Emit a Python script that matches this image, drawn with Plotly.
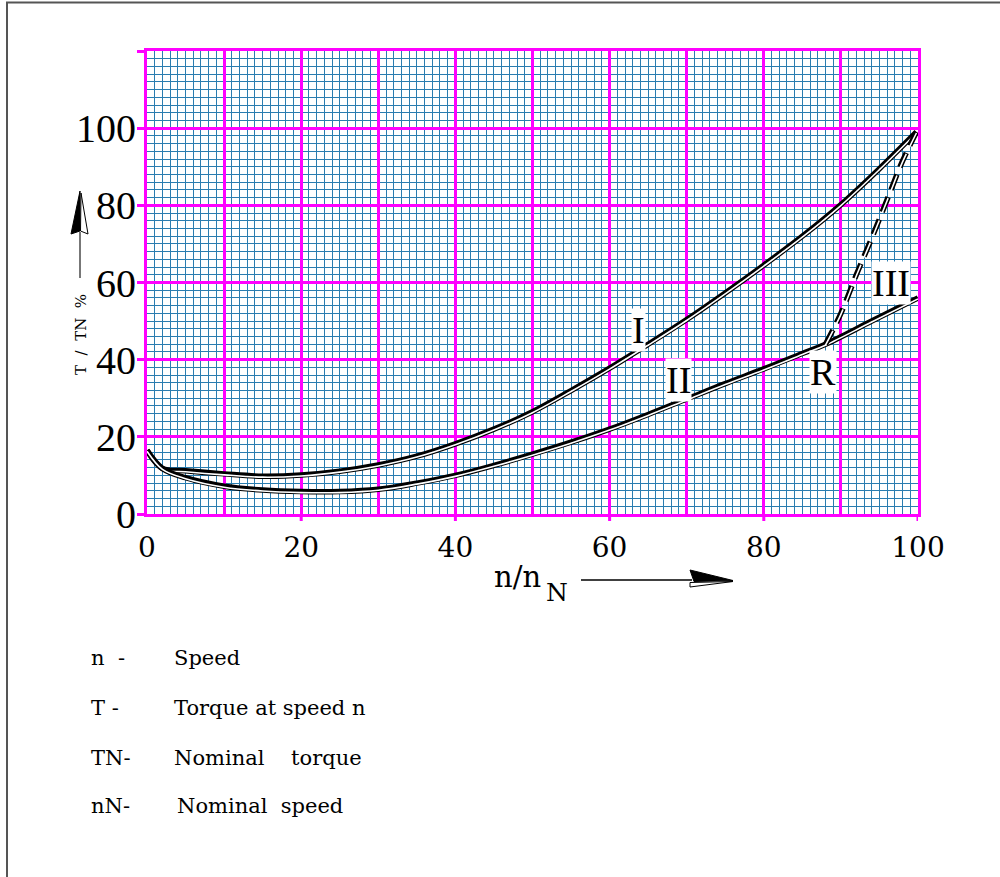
import plotly.graph_objects as go

# ---- data ----
speed_I = [0, 2, 5, 10, 15, 20, 25, 30, 35, 40, 45, 50, 55, 60, 65, 70, 75, 80, 85, 90, 95, 99.8]
torque_I = [16.5, 11.8, 11.2, 10.4, 9.8, 10.1, 11.1, 12.7, 15.0, 18.2, 22.0, 26.5, 32.0, 37.8, 44.0, 50.4, 57.3, 64.5, 72.0, 80.2, 89.5, 99.0]

speed_II = [0, 2, 5, 10, 15, 20, 25, 30, 35, 40, 45, 50, 55, 60, 65, 70, 75, 80, 85, 88, 94, 100]
torque_II = [16.5, 11.8, 9.4, 7.2, 6.2, 5.8, 5.8, 6.4, 8.0, 10.0, 12.6, 15.5, 18.6, 22.0, 25.8, 29.8, 33.8, 37.6, 41.6, 44.0, 50.0, 56.0]

speed_III = [88, 90, 92, 94, 96, 98, 99.8]
torque_III = [44, 52, 62, 71.5, 81.5, 91.5, 99]

curve_labels = ["I", "II", "III", "R"]
label_x = [63.8, 69.0, 96.5, 87.7]
label_y = [47.7, 34.7, 59.9, 36.8]

x_ticks = list(range(0, 101, 10))
x_ticktext = [str(v) if v % 20 == 0 else "" for v in x_ticks]
y_ticks = list(range(0, 121, 20))
y_ticktext = [str(v) if v <= 100 else "" for v in y_ticks]

legend_abbr = ["n\u00a0\u00a0-", "T\u00a0-", "TN-", "nN-"]
legend_desc = ["Speed", "Torque at speed n", "Nominal\u00a0\u00a0\u00a0\u00a0torque", "Nominal\u00a0\u00a0speed"]

# ---- layout geometry (pixels) ----
W, H = 1000, 877
L, R, T, B = 147, 918, 51, 514
PW, PH = R - L, B - T

def fx(px):
    return (px - L) / PW

def fy(py):
    return (B - py) / PH

MAG = "#ff00ff"
BLUE = "#2a7db0"

fig = go.Figure()

def double_line(xs, ys, dash=None):
    fig.add_trace(go.Scatter(x=xs, y=ys, mode="lines",
                             line=dict(color="black", width=5.5, shape="spline", dash=dash),
                             hoverinfo="skip", showlegend=False))
    fig.add_trace(go.Scatter(x=xs, y=[v - 0.25 for v in ys], mode="lines",
                             line=dict(color="white", width=1.6, shape="spline", dash=dash),
                             hoverinfo="skip", showlegend=False))

double_line(speed_I, torque_I)
double_line(speed_II, torque_II)
double_line(speed_III, torque_III, dash="16px,8px")

fig.update_layout(
    width=W, height=H,
    margin=dict(l=L, r=W - R, t=T, b=H - B, pad=0),
    paper_bgcolor="white", plot_bgcolor="white",
    showlegend=False,
    xaxis=dict(range=[0, 100], tickmode="array", tickvals=x_ticks, ticktext=x_ticktext,
               showgrid=True, gridcolor=MAG, gridwidth=3,
               showline=True, linecolor=MAG, linewidth=3, mirror=True,
               zeroline=False, ticks="",
               tickfont=dict(family="DejaVu Serif", size=28, color="black"),
               ticklabelstandoff=6,
               minor=dict(dtick=1, tick0=0, showgrid=True, gridcolor=BLUE, gridwidth=1, ticks="")),
    yaxis=dict(range=[0, 120], tickmode="array", tickvals=y_ticks, ticktext=y_ticktext,
               showgrid=True, gridcolor=MAG, gridwidth=3,
               showline=True, linecolor=MAG, linewidth=3, mirror=True,
               zeroline=False, ticks="outside", ticklen=7, tickwidth=3, tickcolor=MAG,
               tickfont=dict(family="Liberation Serif", size=40, color="black"),
               ticklabelstandoff=-7,
               minor=dict(dtick=2, tick0=0, showgrid=True, gridcolor=BLUE, gridwidth=1, ticks="")),
)

shapes = []
# x tick marks at labelled positions
for v in x_ticks:
    if v % 20 == 0 and v > 0:
        shapes.append(dict(type="line", xref="x", yref="paper", x0=v, x1=v, y0=0, y1=fy(521),
                           line=dict(color=MAG, width=3)))
# frame (left and top)
shapes.append(dict(type="path", xref="paper", yref="paper",
                   path=f"M {fx(7)},{fy(877)} L {fx(7)},{fy(2.5)} L {fx(1000)},{fy(2.5)}",
                   line=dict(color="#555555", width=2)))
# y-axis arrow
shapes.append(dict(type="line", xref="paper", yref="paper", x0=fx(80), x1=fx(80), y0=fy(278), y1=fy(232),
                   line=dict(color="#777777", width=2)))
shapes.append(dict(type="path", xref="paper", yref="paper",
                   path=f"M {fx(80)},{fy(191)} L {fx(71)},{fy(234)} L {fx(80)},{fy(231)} Z",
                   fillcolor="black", line=dict(color="black", width=1)))
shapes.append(dict(type="path", xref="paper", yref="paper",
                   path=f"M {fx(81)},{fy(193)} L {fx(88)},{fy(234)} L {fx(80.5)},{fy(231)} Z",
                   fillcolor="white", line=dict(color="black", width=1)))
# x-axis arrow
shapes.append(dict(type="line", xref="paper", yref="paper", x0=fx(581), x1=fx(692), y0=fy(580), y1=fy(580),
                   line=dict(color="black", width=1.5)))
shapes.append(dict(type="path", xref="paper", yref="paper",
                   path=f"M {fx(690)},{fy(570)} L {fx(733)},{fy(580.5)} L {fx(694)},{fy(581.5)} Z",
                   fillcolor="black", line=dict(color="black", width=1)))
shapes.append(dict(type="path", xref="paper", yref="paper",
                   path=f"M {fx(690)},{fy(582.5)} L {fx(733)},{fy(581.5)} L {fx(690)},{fy(587)} Z",
                   fillcolor="white", line=dict(color="black", width=1)))
fig.update_layout(shapes=shapes)

ann = []
for t, x, y in zip(curve_labels, label_x, label_y):
    ann.append(dict(text=t, x=x, y=y, xref="x", yref="y", showarrow=False,
                    bgcolor="white", borderpad=0,
                    font=dict(family="Liberation Serif", size=38, color="black")))
# axis titles
ann.append(dict(text="n/n", x=fx(543), y=fy(577), xref="paper", yref="paper", showarrow=False,
                xanchor="right", yanchor="middle",
                font=dict(family="DejaVu Serif", size=29, color="black")))
ann.append(dict(text="N", x=fx(544), y=fy(592), xref="paper", yref="paper", showarrow=False,
                xanchor="left", yanchor="middle",
                font=dict(family="DejaVu Serif", size=25, color="black")))
ann.append(dict(text="T\u00a0\u00a0/\u00a0\u00a0TN\u00a0\u00a0%", x=fx(81), y=fy(335), xref="paper", yref="paper",
                showarrow=False, textangle=-90, xanchor="center", yanchor="middle",
                font=dict(family="DejaVu Serif", size=15, color="black")))
# notes below
row_y = [658, 708, 758, 806]
desc_x = [172, 172, 172, 175]
for a, d, ry, dx in zip(legend_abbr, legend_desc, row_y, desc_x):
    ann.append(dict(text=a, x=fx(89), y=fy(ry), xref="paper", yref="paper", showarrow=False,
                    xanchor="left", yanchor="middle",
                    font=dict(family="DejaVu Serif", size=21, color="black")))
    ann.append(dict(text=d, x=fx(dx), y=fy(ry), xref="paper", yref="paper", showarrow=False,
                    xanchor="left", yanchor="middle",
                    font=dict(family="DejaVu Serif", size=21, color="black")))
fig.update_layout(annotations=ann)

fig.write_html("out.html", config={"displayModeBar": False},
               post_script="document.body.style.margin='0px';document.body.style.overflow='hidden';")
